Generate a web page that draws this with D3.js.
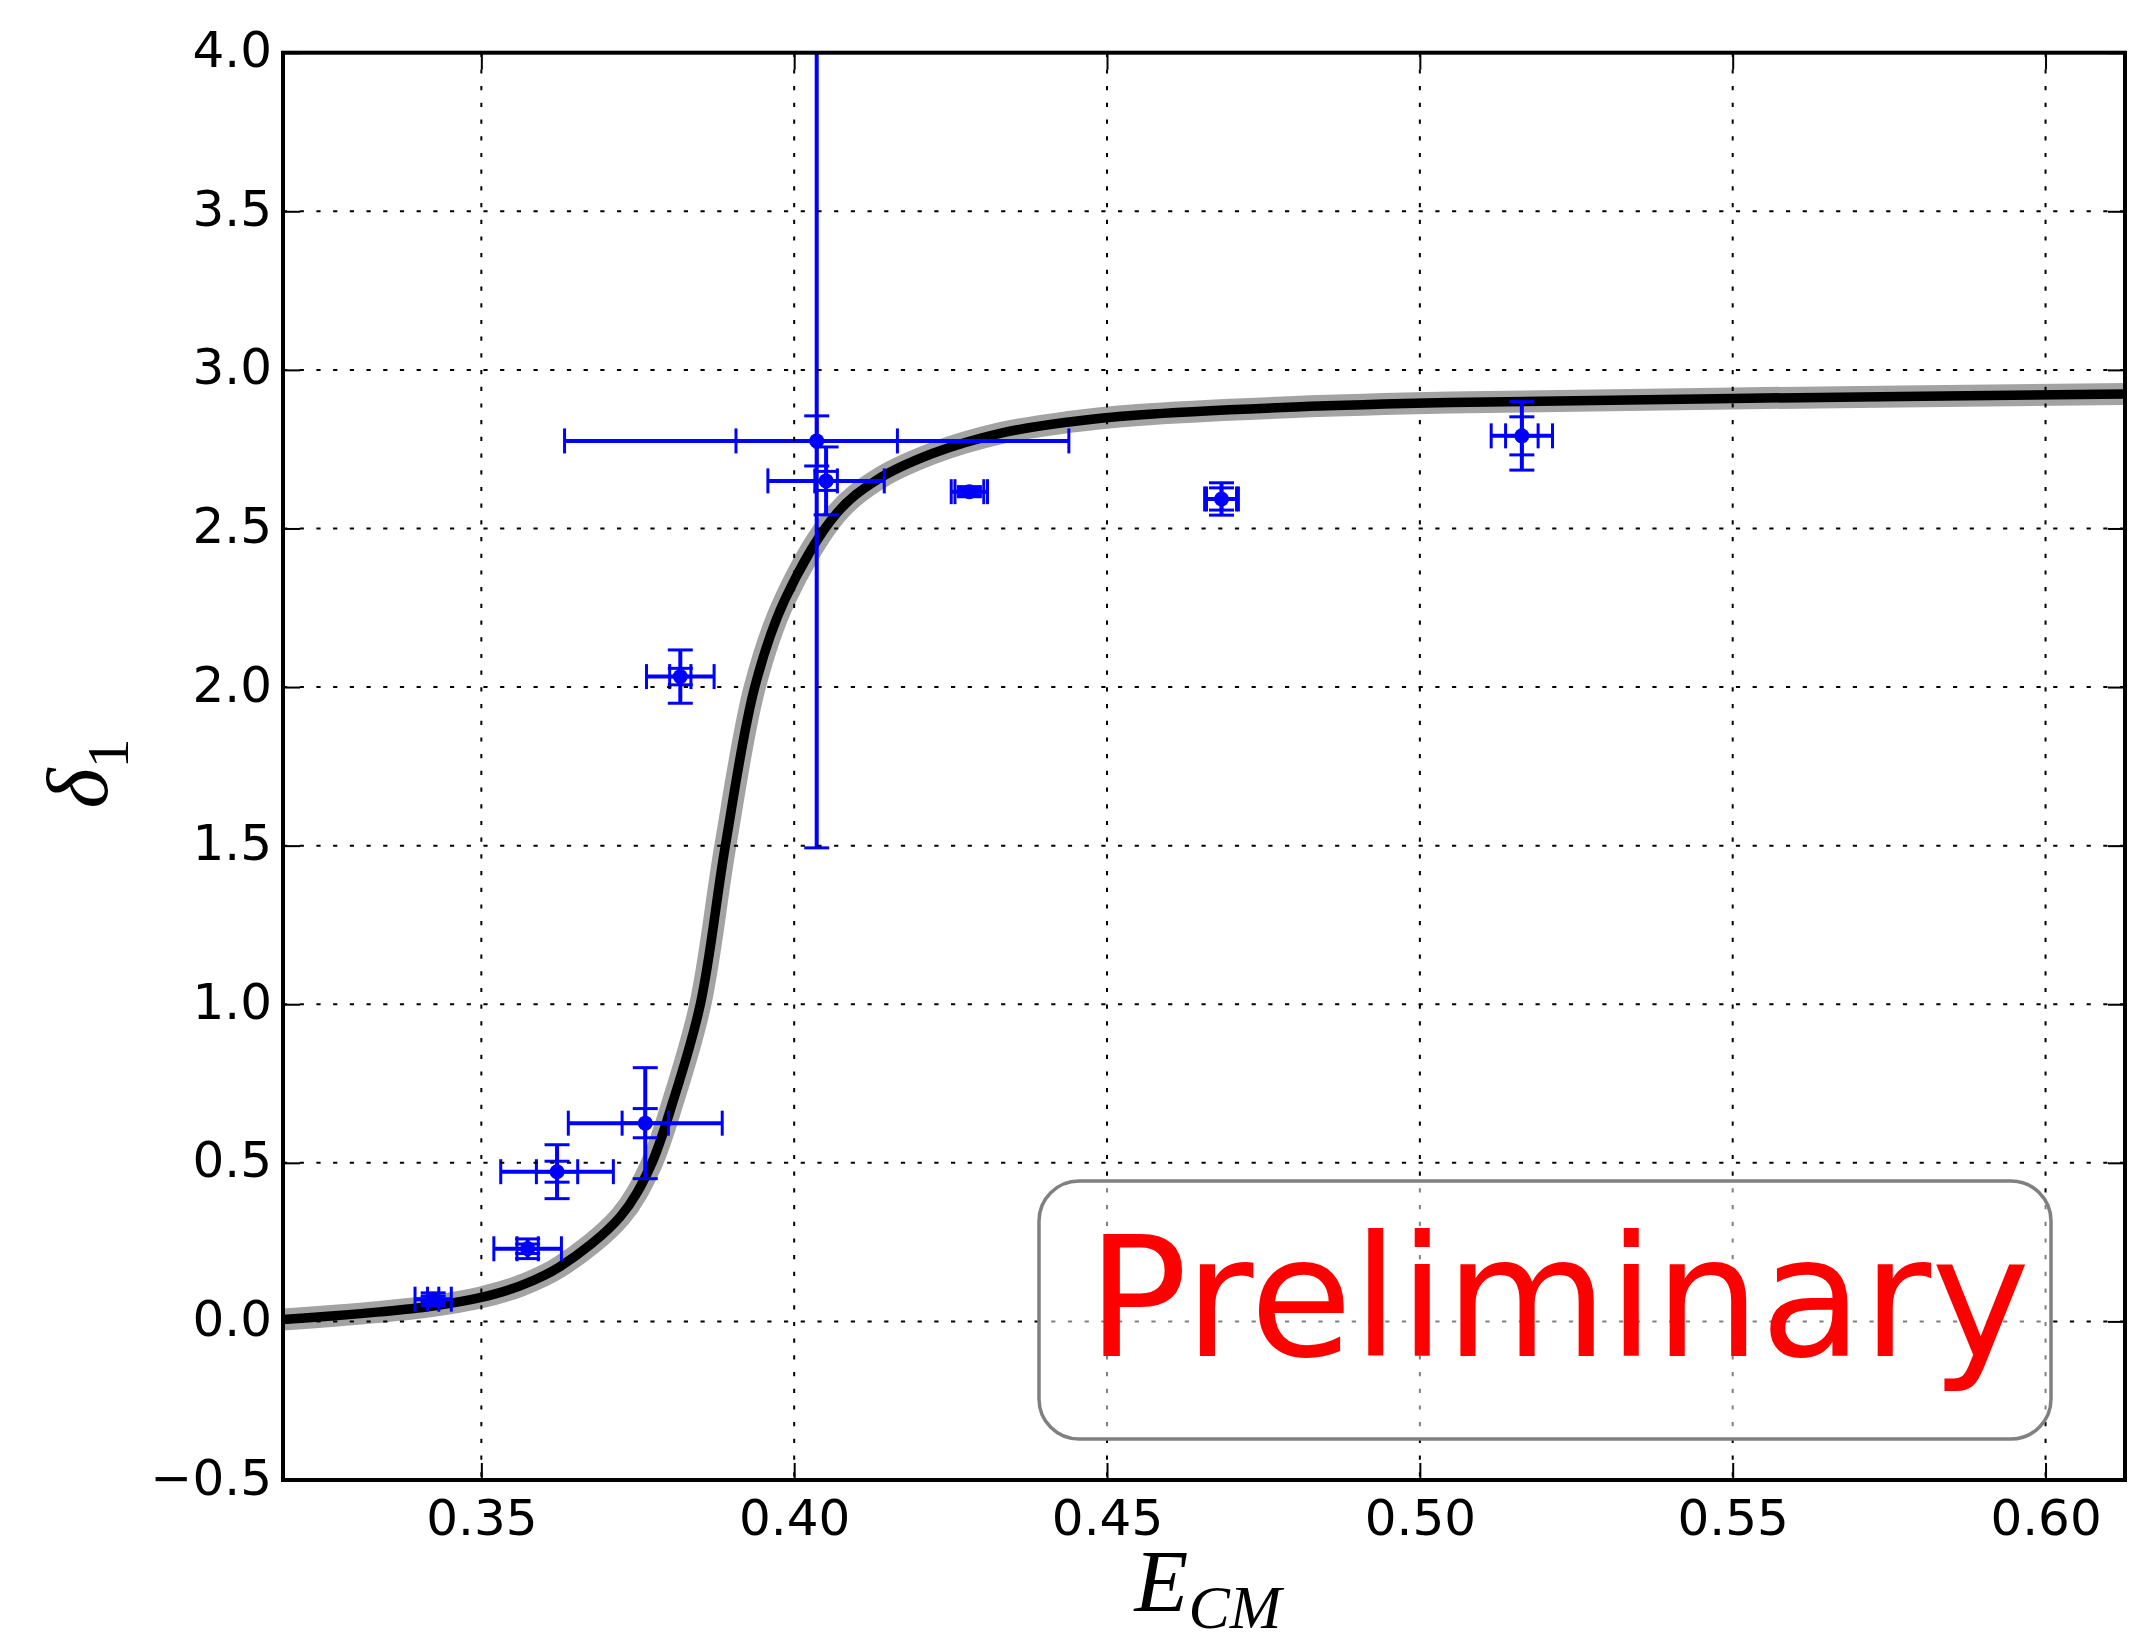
<!DOCTYPE html>
<html>
<head>
<meta charset="utf-8">
<script src="https://cdn.jsdelivr.net/npm/d3@7"></script>
<style>
  body { margin: 0; background: #fff; }
  .tick text { font-family: "DejaVu Sans", sans-serif; font-size: 50px; fill: #000; }
</style>
</head>
<body>
<div id="chart"></div>
<script>
// figure size matches the photo window
var svgWidth = 2129;
var svgHeight = 1644;

var margin = { top: 52.7, right: 4, bottom: 164, left: 283 };
var width = svgWidth - margin.left - margin.right;
var height = svgHeight - margin.top - margin.bottom;

// axis limits and ticks
var xDomain = [0.3183, 0.6127];
var yDomain = [-0.5, 4.0];
var xTicks = [0.35, 0.40, 0.45, 0.50, 0.55, 0.60];
var yTicks = [-0.5, 0.0, 0.5, 1.0, 1.5, 2.0, 2.5, 3.0, 3.5, 4.0];

// fitted phase shift curve
var curveE = [0.3183, 0.3260, 0.3338, 0.3420, 0.3498, 0.3562, 0.3626, 0.3722, 0.3770, 0.3807,
  0.3850, 0.3890, 0.3937, 0.3985, 0.4068, 0.4132, 0.4222, 0.4329, 0.4436, 0.4550,
  0.4800, 0.5048, 0.5500, 0.6127];
var curveDelta = [0.006, 0.017, 0.030, 0.048, 0.075, 0.112, 0.173, 0.330, 0.488, 0.698,
  1.000, 1.500, 2.000, 2.275, 2.548, 2.653, 2.737, 2.800, 2.835, 2.858,
  2.883, 2.897, 2.910, 2.924];

// lattice points with inner (stat) and outer (total) errors
var pointE     = [0.3423, 0.3574, 0.3621, 0.3762, 0.3818, 0.4036, 0.4051, 0.4280, 0.4683, 0.5163];
var pointDelta = [0.070, 0.229, 0.472, 0.625, 2.033, 2.776, 2.650, 2.616, 2.593, 2.792];
var statErrE   = [0.0009, 0.0017, 0.0033, 0.0037, 0.0017, 0.0129, 0.0018, 0.0023, 0.0024, 0.0026];
var totErrE    = [0.0029, 0.0054, 0.0090, 0.0123, 0.0054, 0.0403, 0.0093, 0.0029, 0.0027, 0.0049];
var statErrD   = [0.010, 0.015, 0.033, 0.046, 0.026, 0.079, 0.030, 0.010, 0.035, 0.060];
var totErrD    = [0.020, 0.031, 0.085, 0.175, 0.084, 1.283, 0.107, 0.016, 0.051, 0.108];

var points = pointE.map(function(e, i) {
  return { e: e, d: pointDelta[i], se: statErrE[i], te: totErrE[i], sd: statErrD[i], td: totErrD[i] };
});
var curveData = curveE.map(function(e, i) { return { e: e, d: curveDelta[i] }; });

var svg = d3.select("#chart")
  .append("svg")
  .attr("width", svgWidth)
  .attr("height", svgHeight);

var chartGroup = svg.append("g")
  .attr("transform", `translate(${margin.left}, ${margin.top})`);

chartGroup.append("clipPath")
  .attr("id", "plotClip")
  .append("rect")
  .attr("width", width)
  .attr("height", height);

// scales
var xScale = d3.scaleLinear().domain(xDomain).range([0, width]);
var yScale = d3.scaleLinear().domain(yDomain).range([height, 0]);

var plot = chartGroup.append("g").attr("clip-path", "url(#plotClip)");

// band + fit line
var line = d3.line()
  .x(d => xScale(d.e))
  .y(d => yScale(d.d))
  .curve(d3.curveCatmullRom.alpha(0.5));

plot.append("path")
  .datum(curveData)
  .attr("d", line)
  .attr("fill", "none")
  .attr("stroke", "#a3a3a3")
  .attr("stroke-width", 22)
  .attr("stroke-linejoin", "round");

plot.append("path")
  .datum(curveData)
  .attr("d", line)
  .attr("fill", "none")
  .attr("stroke", "#000")
  .attr("stroke-width", 9.5)
  .attr("stroke-linejoin", "round");

// error bars, two sets per point
var cap = 12.5;
var errGroup = plot.append("g").attr("stroke", "#0000ff");

points.forEach(function(p) {
  var cx = xScale(p.e), cy = yScale(p.d);
  [["te", "td", 4], ["se", "sd", 3.5]].forEach(function(k) {
    var x0 = xScale(p.e - p[k[0]]), x1 = xScale(p.e + p[k[0]]);
    var y0 = yScale(p.d - p[k[1]]), y1 = yScale(p.d + p[k[1]]);
    errGroup.append("line").attr("x1", x0).attr("x2", x1).attr("y1", cy).attr("y2", cy).attr("stroke-width", k[2]);
    errGroup.append("line").attr("x1", cx).attr("x2", cx).attr("y1", y0).attr("y2", y1).attr("stroke-width", k[2]);
    [x0, x1].forEach(function(x) {
      errGroup.append("line").attr("x1", x).attr("x2", x).attr("y1", cy - cap).attr("y2", cy + cap).attr("stroke-width", 3);
    });
    [y0, y1].forEach(function(y) {
      errGroup.append("line").attr("x1", cx - cap).attr("x2", cx + cap).attr("y1", y).attr("y2", y).attr("stroke-width", 3);
    });
  });
});

plot.selectAll("circle.pt")
  .data(points)
  .enter()
  .append("circle")
  .attr("class", "pt")
  .attr("cx", d => xScale(d.e))
  .attr("cy", d => yScale(d.d))
  .attr("r", 7.5)
  .attr("fill", "#0000ff");

// dotted grid
var grid = chartGroup.append("g")
  .attr("stroke", "#000")
  .attr("stroke-width", 2)
  .attr("stroke-dasharray", "4.2,12.5");

grid.selectAll("line.gx")
  .data(xTicks)
  .enter()
  .append("line")
  .attr("x1", d => xScale(d))
  .attr("x2", d => xScale(d))
  .attr("y1", 0)
  .attr("y2", height);

grid.selectAll("line.gy")
  .data(yTicks)
  .enter()
  .append("line")
  .attr("x1", 0)
  .attr("x2", width)
  .attr("y1", d => yScale(d))
  .attr("y2", d => yScale(d));

// "Preliminary" box
var boxG = chartGroup.append("g");
boxG.append("rect")
  .attr("x", 756)
  .attr("y", 1128.3)
  .attr("width", 1012)
  .attr("height", 258)
  .attr("rx", 40)
  .attr("ry", 40)
  .attr("fill", "#fff")
  .attr("fill-opacity", 0.5)
  .attr("stroke", "#808080")
  .attr("stroke-width", 3.5);

boxG.append("text")
  .attr("x", 804)
  .attr("y", 1303.3)
  .attr("font-family", "DejaVu Sans, sans-serif")
  .attr("font-size", 167)
  .attr("fill", "#ff0000")
  .text("Preliminary");

// axes, ticks inward on all sides
var tickLen = 17;
function styleAxis(g) {
  g.select(".domain").remove();
  g.selectAll(".tick line").attr("stroke", "#000").attr("stroke-width", 2);
}

chartGroup.append("g")
  .attr("transform", `translate(0, ${height})`)
  .call(d3.axisBottom(xScale).tickValues(xTicks).tickSize(-tickLen).tickPadding(19.5).tickFormat(d3.format(".2f")))
  .call(styleAxis);

chartGroup.append("g")
  .call(d3.axisLeft(yScale).tickValues(yTicks).tickSize(-tickLen).tickPadding(11).tickFormat(d3.format(".1f")))
  .call(styleAxis)
  .selectAll(".tick text")
  .attr("dy", "0.28em");

chartGroup.append("g")
  .call(d3.axisTop(xScale).tickValues(xTicks).tickSize(-tickLen).tickFormat(""))
  .call(styleAxis);

chartGroup.append("g")
  .attr("transform", `translate(${width}, 0)`)
  .call(d3.axisRight(yScale).tickValues(yTicks).tickSize(-tickLen).tickFormat(""))
  .call(styleAxis);

chartGroup.append("rect")
  .attr("width", width)
  .attr("height", height)
  .attr("fill", "none")
  .attr("stroke", "#000")
  .attr("stroke-width", 4);

// axis labels
var yLabel = svg.append("text")
  .attr("transform", "translate(107, 773.5) rotate(-90)")
  .attr("text-anchor", "middle")
  .attr("font-family", "Liberation Serif, serif");
yLabel.append("tspan").attr("font-style", "italic").attr("font-size", 86).text("δ");
yLabel.append("tspan").attr("font-size", 60).attr("dy", 21).text("1");

var xLabel = svg.append("text")
  .attr("x", 1208)
  .attr("y", 1611)
  .attr("text-anchor", "middle")
  .attr("font-family", "Liberation Serif, serif")
  .attr("font-style", "italic");
xLabel.append("tspan").attr("font-size", 88).text("E");
xLabel.append("tspan").attr("font-size", 62).attr("dy", 17).text("CM");
</script>
</body>
</html>
